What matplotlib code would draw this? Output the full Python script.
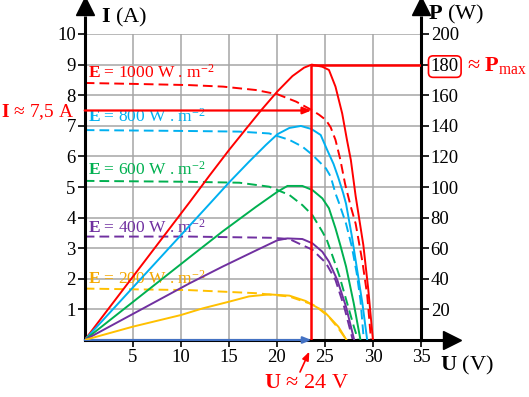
import matplotlib
matplotlib.use("Agg")
import matplotlib.pyplot as plt

plt.rcParams["font.family"] = ["Liberation Serif", "DejaVu Serif"]
plt.rcParams["mathtext.fontset"] = "custom"
plt.rcParams["mathtext.rm"] = "Liberation Serif"
plt.rcParams["mathtext.bf"] = "Liberation Serif:bold"
plt.rcParams["mathtext.it"] = "Liberation Serif:italic"

# ── data ────────────────────────────────────────────────────────────────────────
# dashed = current I(U) in A (left axis), solid = power P(U) in W (right axis)
u_i_1000 = [0, 5, 10.9, 14.4, 17.8, 20.06, 22.0, 23.6, 24.4, 25.1, 25.6, 26.1, 26.6, 27.1, 27.7, 28.2, 28.9, 29.4, 29.8]
i_1000 = [8.40, 8.37, 8.33, 8.28, 8.17, 8.03, 7.79, 7.52, 7.36, 7.19, 6.95, 6.54, 5.9, 5.1, 4.35, 3.8, 2.56, 1.47, 0]
u_p_1000 = [0, 10.91, 12.99, 15.06, 16.79, 18.34, 20.06, 21.62, 22.83, 23.63, 24.73, 25.42, 26.1, 26.8, 27.3, 27.7, 28.2, 29.0, 29.5, 30.0]
p_1000 = [0, 90, 107.5, 124.5, 138, 150, 162.5, 172.5, 178, 180, 178.6, 176.5, 165.6, 148, 130.6, 117.6, 94, 62, 33.8, 0]

u_i_800 = [0, 10.9, 16.1, 19.2, 21.3, 22.65, 23.7, 25.1, 25.6, 26.1, 26.5, 27.2, 27.8, 28.3, 28.7, 29.05]
i_800 = [6.86, 6.83, 6.81, 6.75, 6.54, 6.32, 6.05, 5.61, 5.34, 4.79, 4.45, 3.8, 3.05, 2.2, 1.3, 0]
u_p_800 = [0, 10.9, 13, 15.06, 17.1, 18.86, 20.06, 21.3, 22.5, 23.6, 24.56, 25.25, 25.9, 26.4, 26.9, 27.2, 27.8, 28.3, 28.9, 29.4]
p_800 = [0, 74.6, 89, 103.2, 116.5, 127.5, 134.5, 138.6, 139.9, 137.9, 134, 124, 115, 106, 96, 89, 68, 48, 24, 0]

u_i_600 = [0, 10.9, 16.1, 19.2, 21.3, 22.65, 23.7, 24.73, 25.2, 25.9, 26.5, 27.0, 27.5, 28.0, 28.45]
i_600 = [5.2, 5.17, 5.14, 5.01, 4.74, 4.41, 4.08, 3.54, 3.27, 2.65, 2.1, 1.55, 1.0, 0.45, 0]
u_p_600 = [0, 10.9, 14.36, 17.82, 20.06, 21.1, 22.65, 23.7, 24.73, 25.42, 26.1, 26.6, 27.2, 27.6, 28.0, 28.7]
p_600 = [0, 54, 71, 87, 96.9, 100.7, 100.7, 98, 92.6, 86.1, 73, 62, 48, 36, 24, 0]

u_i_400 = [0, 10.9, 19.54, 21.3, 22.65, 23.7, 25.1, 26.1, 27.0, 27.9]
i_400 = [3.38, 3.38, 3.34, 3.3, 3.1, 2.95, 2.52, 1.96, 1.09, 0]
u_p_400 = [0, 10.9, 14.36, 17.82, 20.06, 21.1, 22.65, 23.7, 24.73, 25.42, 26.3, 27.2, 28.05]
p_400 = [0, 37, 48, 58.5, 65.2, 66.4, 66, 63.2, 57.7, 51.2, 39, 21.7, 0]

u_i_200 = [0, 10.9, 17.82, 21.3, 23.35, 24.0, 25.4, 26.4, 27.25]
i_200 = [1.68, 1.63, 1.53, 1.42, 1.2, 1.12, 0.76, 0.38, 0]
u_p_200 = [0, 5, 10, 12.3, 15, 17.1, 19.2, 21.3, 23.0, 24.4, 25.1, 26.4, 27.25]
p_200 = [0, 8.7, 16.3, 20.7, 25, 28.5, 29.8, 29, 25.5, 20.5, 17.4, 8.7, 0]

irradiances = [1000, 800, 600, 400, 200]
label_heights = [8.73, 7.29, 5.56, 3.66, 1.99]  # where each "E = ..." label sits (A)

u_ticks = [5, 10, 15, 20, 25, 30, 35]
i_ticks = [1, 2, 3, 4, 5, 6, 7, 8, 9, 10]
p_ticks = [20, 40, 60, 80, 100, 120, 140, 160, 180, 200]

U_MPP = 23.6
I_MPP = 7.5
P_MAX = 180

RED = "#ff0000"
BLUE = "#00b0f0"
GREEN = "#00b050"
PURPLE = "#7030a0"
YELLOW = "#ffc000"
ARROW_BLUE = "#4472c4"
GRID = "#a6a6a6"

series = [
    (u_i_1000, i_1000, u_p_1000, p_1000, RED, RED),
    (u_i_800, i_800, u_p_800, p_800, BLUE, BLUE),
    (u_i_600, i_600, u_p_600, p_600, GREEN, GREEN),
    (u_i_400, i_400, u_p_400, p_400, PURPLE, PURPLE),
    (u_i_200, i_200, u_p_200, p_200, YELLOW, "#f5a800"),
]

# ── figure ──────────────────────────────────────────────────────────────────────
W, H = 529, 397
fig = plt.figure(figsize=(W / 100, H / 100), dpi=100)
ax = fig.add_axes([84.7 / W, 57 / H, 336.3 / W, 306 / H])
ax2 = ax.twinx()

ax.set_xlim(0, 35)
ax.set_ylim(0, 10)
ax2.set_ylim(0, 200)
ax.set_xticks(u_ticks)
ax.set_yticks(i_ticks)
ax2.set_yticks(p_ticks)

ax.grid(True, color=GRID, linewidth=1.1)
ax.set_axisbelow(True)
ax.tick_params(axis="both", labelsize=13.5, length=5, width=1.2, pad=1.5)
ax2.tick_params(axis="y", labelsize=13.5, length=6, width=1.2, pad=1)

for s in ("top", "right"):
    ax.spines[s].set_visible(False)
for s in ("top", "left", "bottom"):
    ax2.spines[s].set_visible(False)
for sp in (ax.spines["left"], ax.spines["bottom"], ax2.spines["right"]):
    sp.set_linewidth(2.2)

DASH = (0, (5, 2.6))
for u_i, i_vals, u_p, p_vals, color, tcolor in series:
    ax.plot(u_i, i_vals, color=color, linewidth=1.4, linestyle=DASH,
            dash_joinstyle="round")
    ax2.plot(u_p, p_vals, color=color, linewidth=1.4, solid_joinstyle="round")

for e, y, (_, _, _, _, _, tcolor) in zip(irradiances, label_heights, series):
    ax.text(0.35, y, rf"$\mathbf{{E}}$ = {e} W . m$^{{-2}}$", color=tcolor,
            fontsize=12.5, va="center", ha="left")

# maximum power point construction
ax.annotate("", xy=(U_MPP, I_MPP), xytext=(0, I_MPP),
            arrowprops=dict(arrowstyle="-|>,head_length=0.5,head_width=0.2",
                            color=RED, lw=1.6, shrinkA=0, shrinkB=0))
ax2.vlines(U_MPP, 0, P_MAX, color=RED, linewidth=1.8, zorder=4)
ax2.hlines(P_MAX, U_MPP, 35, color=RED, linewidth=1.8, zorder=4)
ax.annotate("", xy=(U_MPP, 0), xytext=(0, 0), annotation_clip=False,
            arrowprops=dict(arrowstyle="-|>,head_length=0.5,head_width=0.2",
                            color=ARROW_BLUE, lw=1.5, shrinkA=0, shrinkB=0), zorder=5)

# axis arrows
kw = dict(color="black", clip_on=False, transform=ax.transAxes)
ax.plot([0, 0], [1, 1.06], lw=2.2, solid_capstyle="butt", **kw)
ax.plot([0], [1.0915], marker="^", ms=13, **kw)
ax.plot([1, 1], [1, 1.06], lw=2.2, solid_capstyle="butt", **kw)
ax.plot([1], [1.0915], marker="^", ms=13, **kw)
ax.plot([1, 1.08], [0, 0], lw=2.2, solid_capstyle="butt", **kw)
ax.plot([1.092], [0], marker=">", ms=13, **kw)

# boxed 180 on the power axis
for lab in ax2.get_yticklabels():
    if lab.get_text() == str(P_MAX):
        lab.set_bbox(dict(boxstyle="round,pad=0.12,rounding_size=0.25",
                          ec=RED, fc="white", lw=1.2))


def fx(px):
    return px / W


def fy(py):
    return 1 - py / H


fig.text(fx(101), fy(17), r"$\mathbf{I}$ (A)", fontsize=16, va="center", ha="left")
fig.text(fx(428), fy(14), r"$\mathbf{P}$ (W)", fontsize=16, va="center", ha="left")
fig.text(fx(440), fy(365), r"$\mathbf{U}$ (V)", fontsize=16, va="center", ha="left")
fig.text(fx(1), fy(112.5), r"$\mathbf{I}$ ≈ 7,5 A", fontsize=14, color=RED, va="center", ha="left")
fig.text(fx(307), fy(383), r"$\mathbf{U}$ ≈ 24 V", fontsize=16, color=RED, va="center", ha="center")
fig.text(fx(467), fy(66), r"≈ $\mathbf{P}_{\mathrm{max}}$", fontsize=16, color=RED, va="center", ha="left")
ax.annotate("", xy=(309.3, H - 351.7), xytext=(300, H - 372),
            xycoords="figure pixels", textcoords="figure pixels",
            arrowprops=dict(arrowstyle="-|>,head_length=0.5,head_width=0.2",
                            color=RED, lw=1.2, shrinkA=0, shrinkB=0))

fig.savefig("out.png", dpi=100)
